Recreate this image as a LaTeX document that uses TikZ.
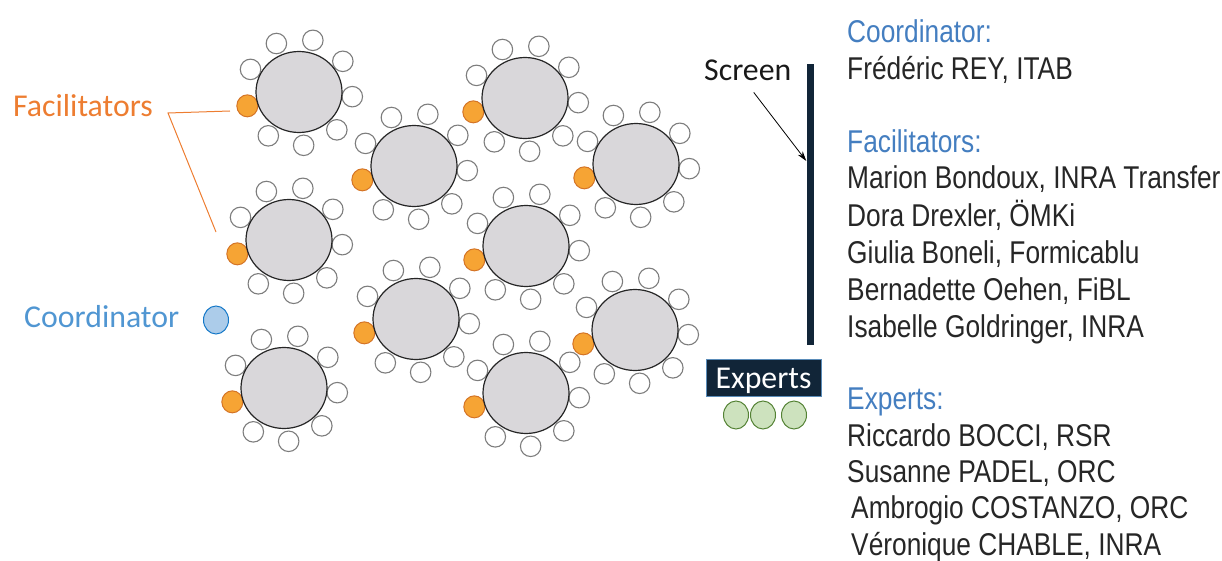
\documentclass[tikz,border=0pt]{standalone}
\usepackage{fontspec}
\setmainfont{Carlito}
\newfontfamily\listfont[FakeStretch=0.835]{Liberation Sans}
\usetikzlibrary{shapes.geometric,arrows.meta}

\definecolor{tablegrey}{RGB}{217,215,218}
\definecolor{chairgrey}{RGB}{125,125,125}
\definecolor{facorange}{RGB}{246,164,52}
\definecolor{facborder}{RGB}{212,116,38}
\definecolor{labelorange}{RGB}{237,125,49}
\definecolor{labelblue}{RGB}{80,150,210}
\definecolor{dotblue}{RGB}{172,204,234}
\definecolor{dotborder}{RGB}{20,120,200}
\definecolor{headblue}{RGB}{68,126,192}
\definecolor{navy}{RGB}{17,37,56}
\definecolor{boxedge}{RGB}{90,140,185}
\definecolor{expgreen}{RGB}{205,226,190}
\definecolor{expborder}{RGB}{84,130,53}

\tikzset{
  tablebox/.style={ellipse, draw=black!85, line width=1.2pt, fill=tablegrey,
    minimum width=86pt, minimum height=81pt, inner sep=0pt},
  chair/.style={circle, draw=chairgrey, line width=1.1pt, fill=white,
    minimum size=20.5pt, inner sep=0pt},
  facchair/.style={ellipse, draw=facborder, line width=1pt, fill=facorange,
    minimum width=21pt, minimum height=22pt, inner sep=0pt},
  sidelabel/.style={anchor=base west, inner sep=0pt,
    font=\fontsize{31.8}{37}\selectfont},
  head/.style={anchor=base west, inner sep=0pt, text=headblue,
    font=\listfont\fontsize{31.5}{36}\selectfont},
  person/.style={anchor=base west, inner sep=0pt, text=black!85,
    font=\listfont\fontsize{31.5}{36}\selectfont},
  seat/.style={ellipse, line width=1pt, minimum width=25pt,
    minimum height=28pt, inner sep=0pt}
}

\begin{document}
\begin{tikzpicture}[x=1pt,y=-1pt]
    \useasboundingbox (0,0) rectangle (1222,561);

    % Round tables, 8 chairs + 1 facilitator each
    \foreach \t/\x/\y in {1/299/92, 2/414/166, 3/525/98, 4/636/164,
        5/289/240, 6/526/246, 7/416/319, 8/635/330, 9/284/388, 10/526/393} {
        \coordinate (t\t) at (\x,\y);
        \foreach \a [count=\c] in {205,245,...,485}
            \path (t\t) ++(\a:53.5) node[chair] (t\t-c\c) {};
        \path (t\t) ++(165:53.5) node[facchair] (t\t-f) {};
        \node[tablebox] (tab\t) at (t\t) {};
    }

    % Facilitators label with its two pointers
    \node[sidelabel, text=labelorange] (faclab) at (13,117) {Facilitators};
    \coordinate (fork) at (168,113);
    \coordinate (fend1) at (230,111);
    \coordinate (fend2) at (216,232);
    \draw[labelorange, line width=1pt] (fend1) -- (fork) -- (fend2);

    % Coordinator
    \node[sidelabel, text=labelblue] (coordlab) at (24,327) {Coordinator};
    \node[seat, draw=dotborder, fill=dotblue] (coorddot) at (216,320) {};

    % Screen
    \node[rectangle, fill=navy, minimum width=7pt, minimum height=281pt,
        inner sep=0pt] (screen) at (810,204.5) {};
    \node[sidelabel, text=black!90] (scrlab) at (704,81) {Screen};
    \draw[-{Stealth[length=10pt,width=6pt]}, line width=0.8pt]
        ([shift={(6,11)}]scrlab.south) -- ([shift={(0,-43.5)}]screen.west);

    % Experts desk
    \node[rectangle, fill=navy, draw=boxedge, line width=1pt, text=white,
        minimum width=115pt, minimum height=37pt, inner sep=0pt,
        text height=21pt, text depth=0pt,
        font=\fontsize{31.8}{37}\selectfont] (expbox) at (763.5,377.5) {Experts};
    \foreach \e/\x in {1/736, 2/763, 3/794}
        \node[seat, draw=expborder, fill=expgreen] (exp\e) at (\x,415) {};

    % Names
    \foreach \n/\y/\txt in {hcoord/43/Coordinator:, hfac/153/Facilitators:,
        hexp/409/Experts:}
        \node[head] (\n) at (847,\y) {\txt};
    \foreach \n/\x/\y/\txt in {p1/847/80/{Frédéric REY, ITAB},
        p2/847/189/{Marion Bondoux, INRA Transfer},
        p3/847/226/{Dora Drexler, ÖMKi},
        p4/847/263/{Giulia Boneli, Formicablu},
        p5/847/300/{Bernadette Oehen, FiBL},
        p6/847/337/{Isabelle Goldringer, INRA},
        p7/847/446/{Riccardo BOCCI, RSR},
        p8/847/482/{Susanne PADEL, ORC},
        p9/851/518/{Ambrogio COSTANZO, ORC},
        p10/851/555/{Véronique CHABLE, INRA}}
        \node[person] (\n) at (\x,\y) {\txt};
\end{tikzpicture}
\end{document}
